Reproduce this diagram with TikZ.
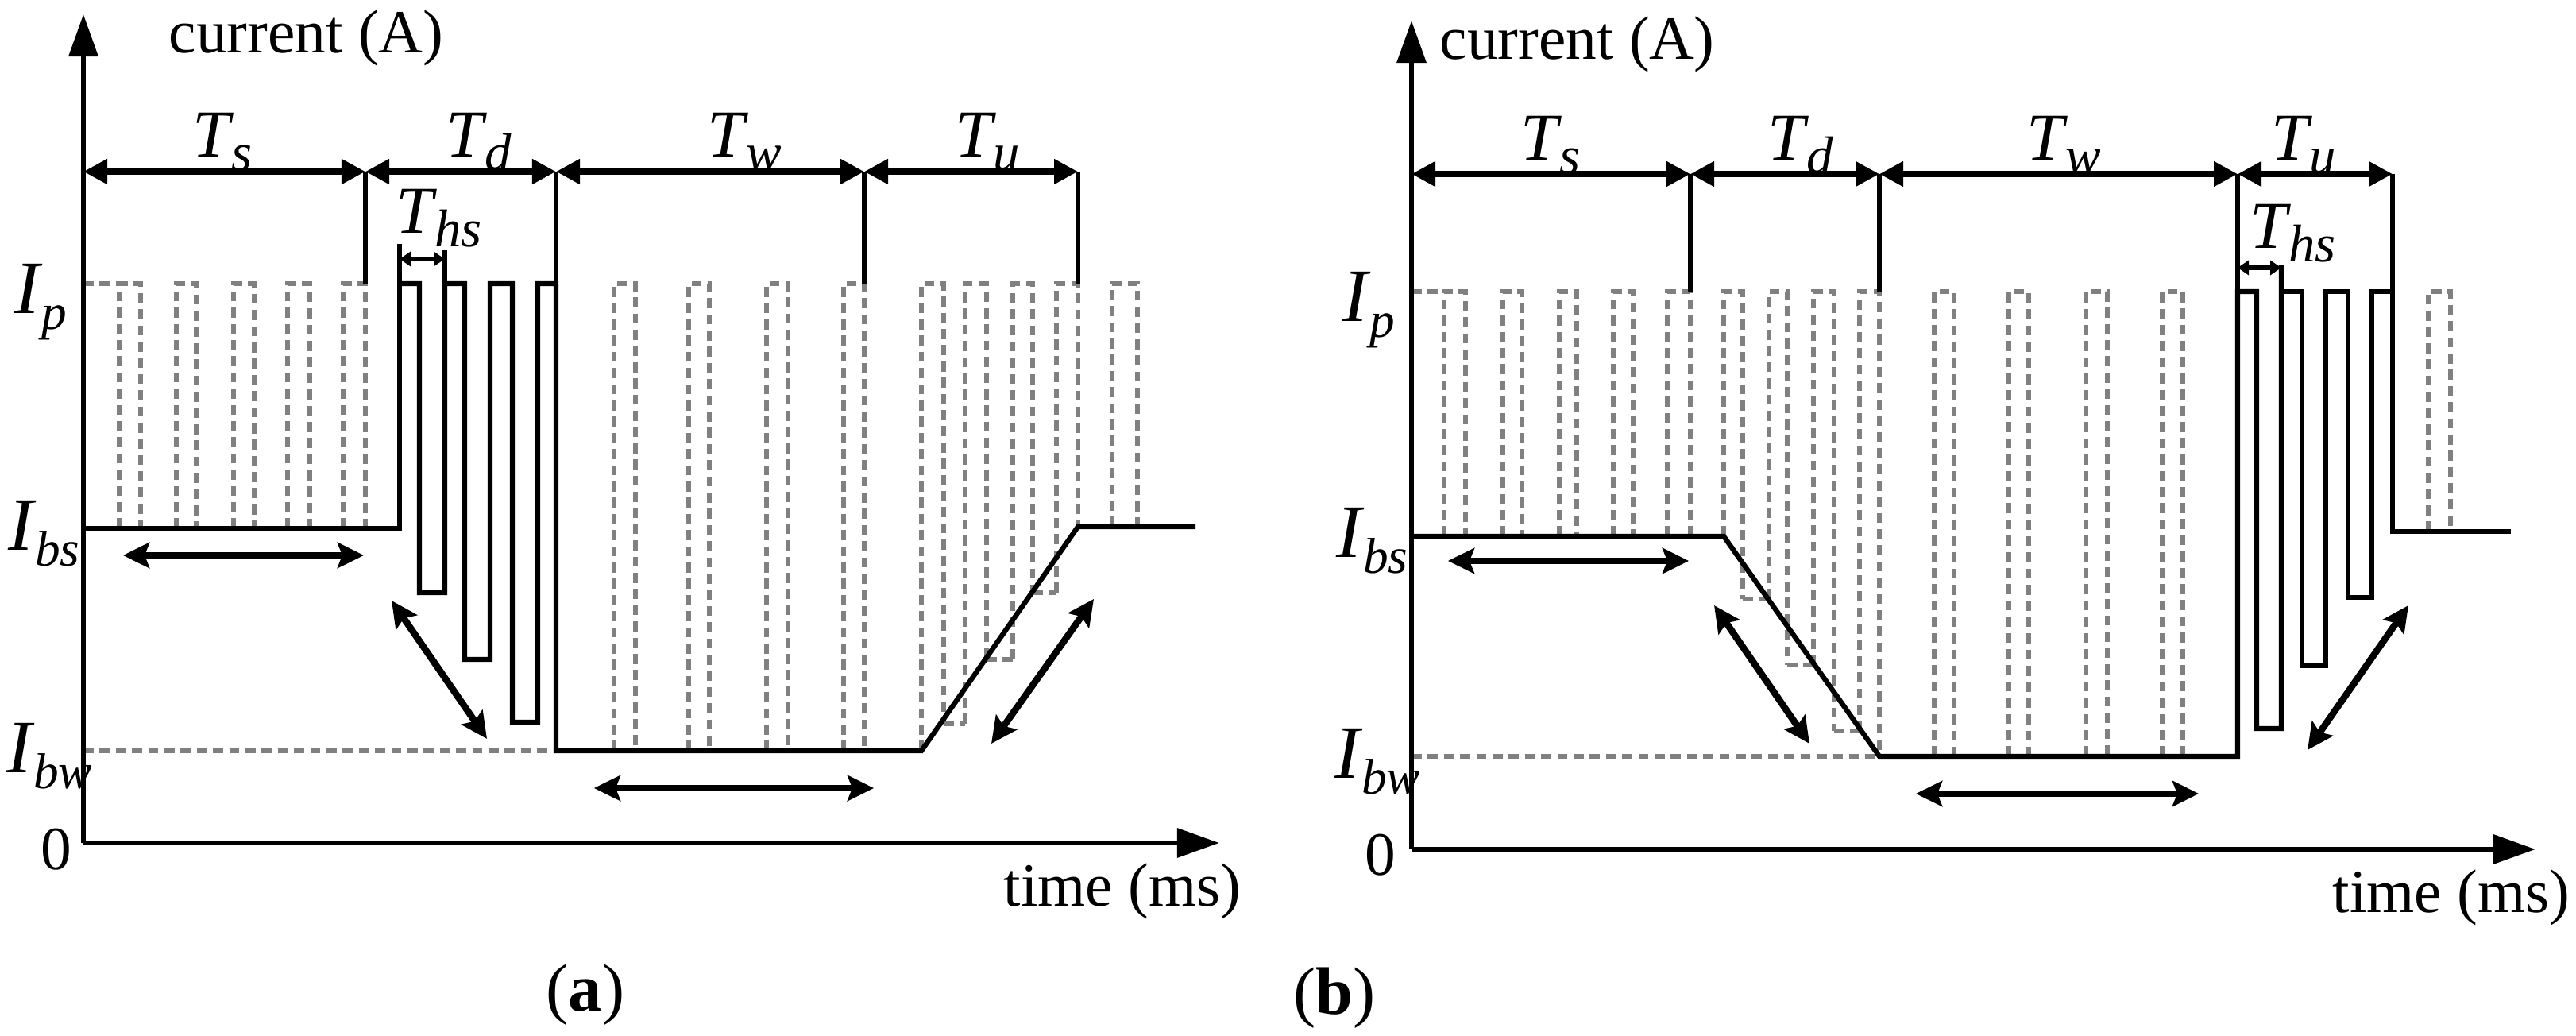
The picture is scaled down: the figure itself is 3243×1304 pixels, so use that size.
\documentclass[tikz,border=0pt]{standalone}
\usepackage{fontspec}
\setmainfont{Liberation Serif}
\usetikzlibrary{arrows.meta}
\newcommand\lab[2]{\fontsize{24}{24}\selectfont\textit{#1}\kern-0.04em\raisebox{-0.42ex}{\fontsize{19}{19}\selectfont\textit{#2}}}
\newcommand\labI[2]{\fontsize{27}{27}\selectfont\textit{#1}\kern-0.02em\raisebox{-0.45ex}{\fontsize{18}{18}\selectfont\textit{#2}}}
\tikzset{
  solid line/.style={line width=1.8pt, line join=miter},
  gp/.style={draw=black!50, line width=1.5pt, dash pattern=on 3.6pt off 2.2pt},
  axisline/.style={line width=1.8pt, -{Triangle[length=0.53cm,width=0.36cm]}},
  dimline/.style={line width=2.2pt, {Triangle[length=0.3cm,width=0.3cm]}-{Triangle[length=0.3cm,width=0.3cm]}},
  dblarrow/.style={line width=2.4pt, {Stealth[length=0.33cm,width=0.32cm,inset=0.06cm]}-{Stealth[length=0.33cm,width=0.32cm,inset=0.06cm]}},
  smallarrow/.style={line width=1.5pt, {Triangle[length=0.14cm,width=0.18cm]}-{Triangle[length=0.14cm,width=0.18cm]}},
  txt/.style={inner sep=0pt, font=\fontsize{22}{22}\selectfont},
}
\begin{document}
\begin{tikzpicture}[x=0.01cm,y=-0.01cm]
\useasboundingbox (0,0) rectangle (3243,1304);
\fill[white] (0,0) rectangle (3243,1304);

%%%%%%%%%%%%%%%% panel (a)
\draw[gp] (105,357) -- (150,357);
\draw[gp] (105,945) -- (700,945);
\foreach \a/\b/\l/\r in {150/177/665/665,222/247/665/665,294/320/665/665,362/390/665/665,432/460/665/665,
  773/800/945/945,867/893/945/945,965/992/945/945,1062/1088/945/945,
  1160/1188/945/911,1215/1242/911/830,1275/1300/830/746,1330/1357/746/663,1400/1432/663/663}
  \draw[gp] (\a,\l) |- (\b,357) -- (\b,\r);
\draw[gp] (1188,911) -- (1215,911);
\draw[gp] (1242,830) -- (1275,830);
\draw[gp] (1300,746) -- (1330,746);
\draw[solid line] (105,665) -- (503,665) -- (503,307);
\draw[solid line] (503,357) -- (528,357) -- (528,746) -- (560,746) -- (560,357) -- (585,357) -- (585,830) -- (617,830) -- (617,357) -- (645,357) -- (645,909) -- (677,909) -- (677,357) -- (700,357) -- (700,945) -- (1160,945) -- (1357,663) -- (1505,663);
\draw[solid line] (560,315) -- (560,357);
\draw[solid line] (460,216) -- (460,357);
\draw[solid line] (700,216) -- (700,357);
\draw[solid line] (1088,216) -- (1088,357);
\draw[solid line] (1357,216) -- (1357,357);
\coordinate (oa) at (105,1061);
\coordinate (ya) at (105,18);
\coordinate (xa) at (1535,1061);
\draw[axisline] (oa) -- (ya);
\draw[axisline] (oa) -- (xa);
\coordinate (a0) at (105,216); \coordinate (a1) at (460,216); \coordinate (a2) at (700,216);
\coordinate (a3) at (1088,216); \coordinate (a4) at (1357,216);
\draw[dimline] (a0) -- (a1);
\draw[dimline] (a1) -- (a2);
\draw[dimline] (a2) -- (a3);
\draw[dimline] (a3) -- (a4);
\coordinate (h1) at (503,326); \coordinate (h2) at (560,326);
\draw[smallarrow] (h1) -- (h2);
\coordinate (d1) at (155,699); \coordinate (d2) at (458,699);
\coordinate (d3) at (493,756); \coordinate (d4) at (613,930);
\coordinate (d5) at (748,992); \coordinate (d6) at (1100,992);
\coordinate (d7) at (1377,754); \coordinate (d8) at (1248,936);
\draw[dblarrow] (d1) -- (d2);
\draw[dblarrow] (d3) -- (d4);
\draw[dblarrow] (d5) -- (d6);
\draw[dblarrow] (d7) -- (d8);
\node[txt, anchor=base west] (cura) at (212,67) {current (A)};
\node[txt, anchor=base west] (tima) at (1263,1140) {time (ms)};
\node[txt] (za) at (71,1069) {0};
\node[txt, anchor=base, font=\fontsize{24}{24}\selectfont] (capa) at (737,1272) {(\textbf{a})};
\node[inner sep=0pt, anchor=base] (tsa) at (280,198) {\lab{T}{s}};
\node[inner sep=0pt, anchor=base] (tda) at (603,198) {\lab{T}{d}};
\node[inner sep=0pt, anchor=base] (twa) at (937,198) {\lab{T}{w}};
\node[inner sep=0pt, anchor=base] (tua) at (1243,198) {\lab{T}{u}};
\node[inner sep=0pt, anchor=base west] (thsa) at (498,294) {\lab{T}{hs}};
\node[inner sep=0pt, anchor=west] (ipa) at (18,380) {\labI{I}{p}};
\node[inner sep=0pt, anchor=west] (ibsa) at (10,672) {\labI{I}{bs}};
\node[inner sep=0pt, anchor=west] (ibwa) at (8,952) {\labI{I}{bw}};

%%%%%%%%%%%%%%%% panel (b)
\draw[gp] (1777,367) -- (1815,367);
\draw[gp] (1777,952) -- (2366,952);
\foreach \a/\b/\l/\r in {1818/1845/675/675,1892/1916/675/675,1963/1985/675/675,2031/2056/675/675,2099/2128/675/675,
  2170/2194/675/754,2227/2250/754/837,2283/2309/837/920,2341/2366/920/952,
  2435/2460/952/952,2529/2554/952/952,2626/2653/952/952,2722/2748/952/952,3057/3085/669/669}
  \draw[gp] (\a,\l) |- (\b,367) -- (\b,\r);
\draw[gp] (2194,754) -- (2227,754);
\draw[gp] (2250,837) -- (2283,837);
\draw[gp] (2309,920) -- (2341,920);
\draw[solid line] (1777,675) -- (2170,675) -- (2366,952) -- (2817,952) -- (2817,367) -- (2841,367) -- (2841,917) -- (2872,917) -- (2872,334);
\draw[solid line] (2872,367) -- (2898,367) -- (2898,838) -- (2928,838) -- (2928,367) -- (2956,367) -- (2956,752) -- (2986,752) -- (2986,367) -- (3012,367) -- (3012,669) -- (3161,669);
\draw[solid line] (2128,219) -- (2128,367);
\draw[solid line] (2366,219) -- (2366,367);
\draw[solid line] (2817,219) -- (2817,367);
\draw[solid line] (3012,219) -- (3012,367);
\coordinate (ob) at (1777,1069);
\coordinate (yb) at (1777,26);
\coordinate (xb) at (3192,1069);
\draw[axisline] (ob) -- (yb);
\draw[axisline] (ob) -- (xb);
\coordinate (b0) at (1777,219); \coordinate (b1) at (2128,219); \coordinate (b2) at (2366,219);
\coordinate (b3) at (2817,219); \coordinate (b4) at (3012,219);
\draw[dimline] (b0) -- (b1);
\draw[dimline] (b1) -- (b2);
\draw[dimline] (b2) -- (b3);
\draw[dimline] (b3) -- (b4);
\coordinate (k1) at (2817,337); \coordinate (k2) at (2872,337);
\draw[smallarrow] (k1) -- (k2);
\coordinate (e1) at (1823,706); \coordinate (e2) at (2126,706);
\coordinate (e3) at (2158,762); \coordinate (e4) at (2278,936);
\coordinate (e5) at (2412,999); \coordinate (e6) at (2768,999);
\coordinate (e7) at (3032,762); \coordinate (e8) at (2905,944);
\draw[dblarrow] (e1) -- (e2);
\draw[dblarrow] (e3) -- (e4);
\draw[dblarrow] (e5) -- (e6);
\draw[dblarrow] (e7) -- (e8);
\node[txt, anchor=base west] (curb) at (1812,75) {current (A)};
\node[txt, anchor=base west] (timb) at (2936,1148) {time (ms)};
\node[txt] (zb) at (1738,1076) {0};
\node[txt, anchor=base, font=\fontsize{24}{24}\selectfont] (capb) at (1680,1276) {(\textbf{b})};
\node[inner sep=0pt, anchor=base] (tsb) at (1952,202) {\lab{T}{s}};
\node[inner sep=0pt, anchor=base] (tdb) at (2267,202) {\lab{T}{d}};
\node[inner sep=0pt, anchor=base] (twb) at (2598,202) {\lab{T}{w}};
\node[inner sep=0pt, anchor=base] (tub) at (2900,202) {\lab{T}{u}};
\node[inner sep=0pt, anchor=base west] (thsb) at (2832,313) {\lab{T}{hs}};
\node[inner sep=0pt, anchor=west] (ipb) at (1690,390) {\labI{I}{p}};
\node[inner sep=0pt, anchor=west] (ibsb) at (1682,681) {\labI{I}{bs}};
\node[inner sep=0pt, anchor=west] (ibwb) at (1680,959) {\labI{I}{bw}};
\end{tikzpicture}
\end{document}
